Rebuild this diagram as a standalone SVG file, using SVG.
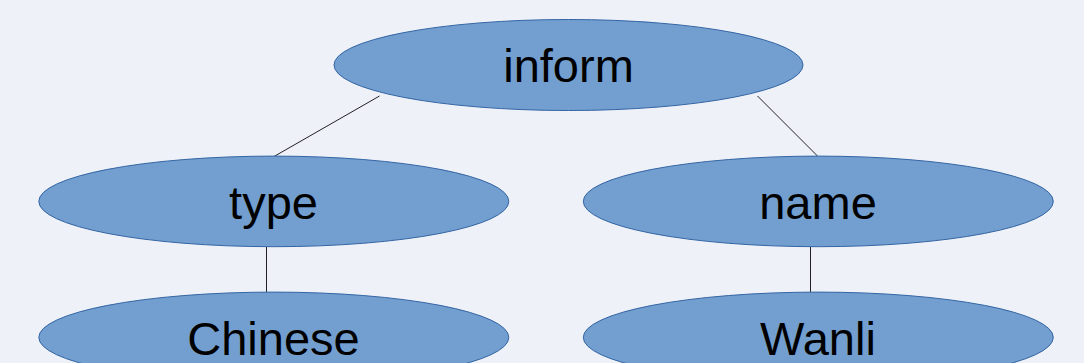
<svg xmlns="http://www.w3.org/2000/svg" width="1084" height="363" viewBox="0 0 1084 363">
<style>
.node ellipse { fill: #729fcf; stroke: #3465a4; stroke-width: 1; }
.node text { font-family: "Liberation Sans", Arial, sans-serif; font-size: 47px; fill: #000; text-anchor: middle; }
.edge { stroke: #222; stroke-width: 1; fill: none; }
</style>
<rect x="0" y="0" width="1084" height="363" fill="#eef1f8"/>
<g id="connectors">
<line class="edge" x1="379.5" y1="96" x2="274" y2="156.5"/>
<line class="edge" x1="757.5" y1="96" x2="818" y2="156.5"/>
<line class="edge" x1="266.5" y1="247" x2="266.5" y2="292"/>
<line class="edge" x1="810.5" y1="247" x2="810.5" y2="292"/>
</g>
<g id="inform" class="node">
<ellipse cx="568.5" cy="65" rx="234.5" ry="45.5"/>
<text x="568.5" y="82">inform</text>
</g>
<g id="type" class="node">
<ellipse cx="273.8" cy="201.4" rx="235" ry="45.3"/>
<text x="273.5" y="219.3">type</text>
</g>
<g id="name" class="node">
<ellipse cx="818.3" cy="201.4" rx="235" ry="45.3"/>
<text x="818" y="219.3">name</text>
</g>
<g id="chinese" class="node">
<ellipse cx="273.8" cy="337.4" rx="235" ry="45.3"/>
<text x="273.5" y="355.3">Chinese</text>
</g>
<g id="wanli" class="node">
<ellipse cx="818.3" cy="337.4" rx="235" ry="45.3"/>
<text x="818" y="355.3">Wanli</text>
</g>
</svg>
